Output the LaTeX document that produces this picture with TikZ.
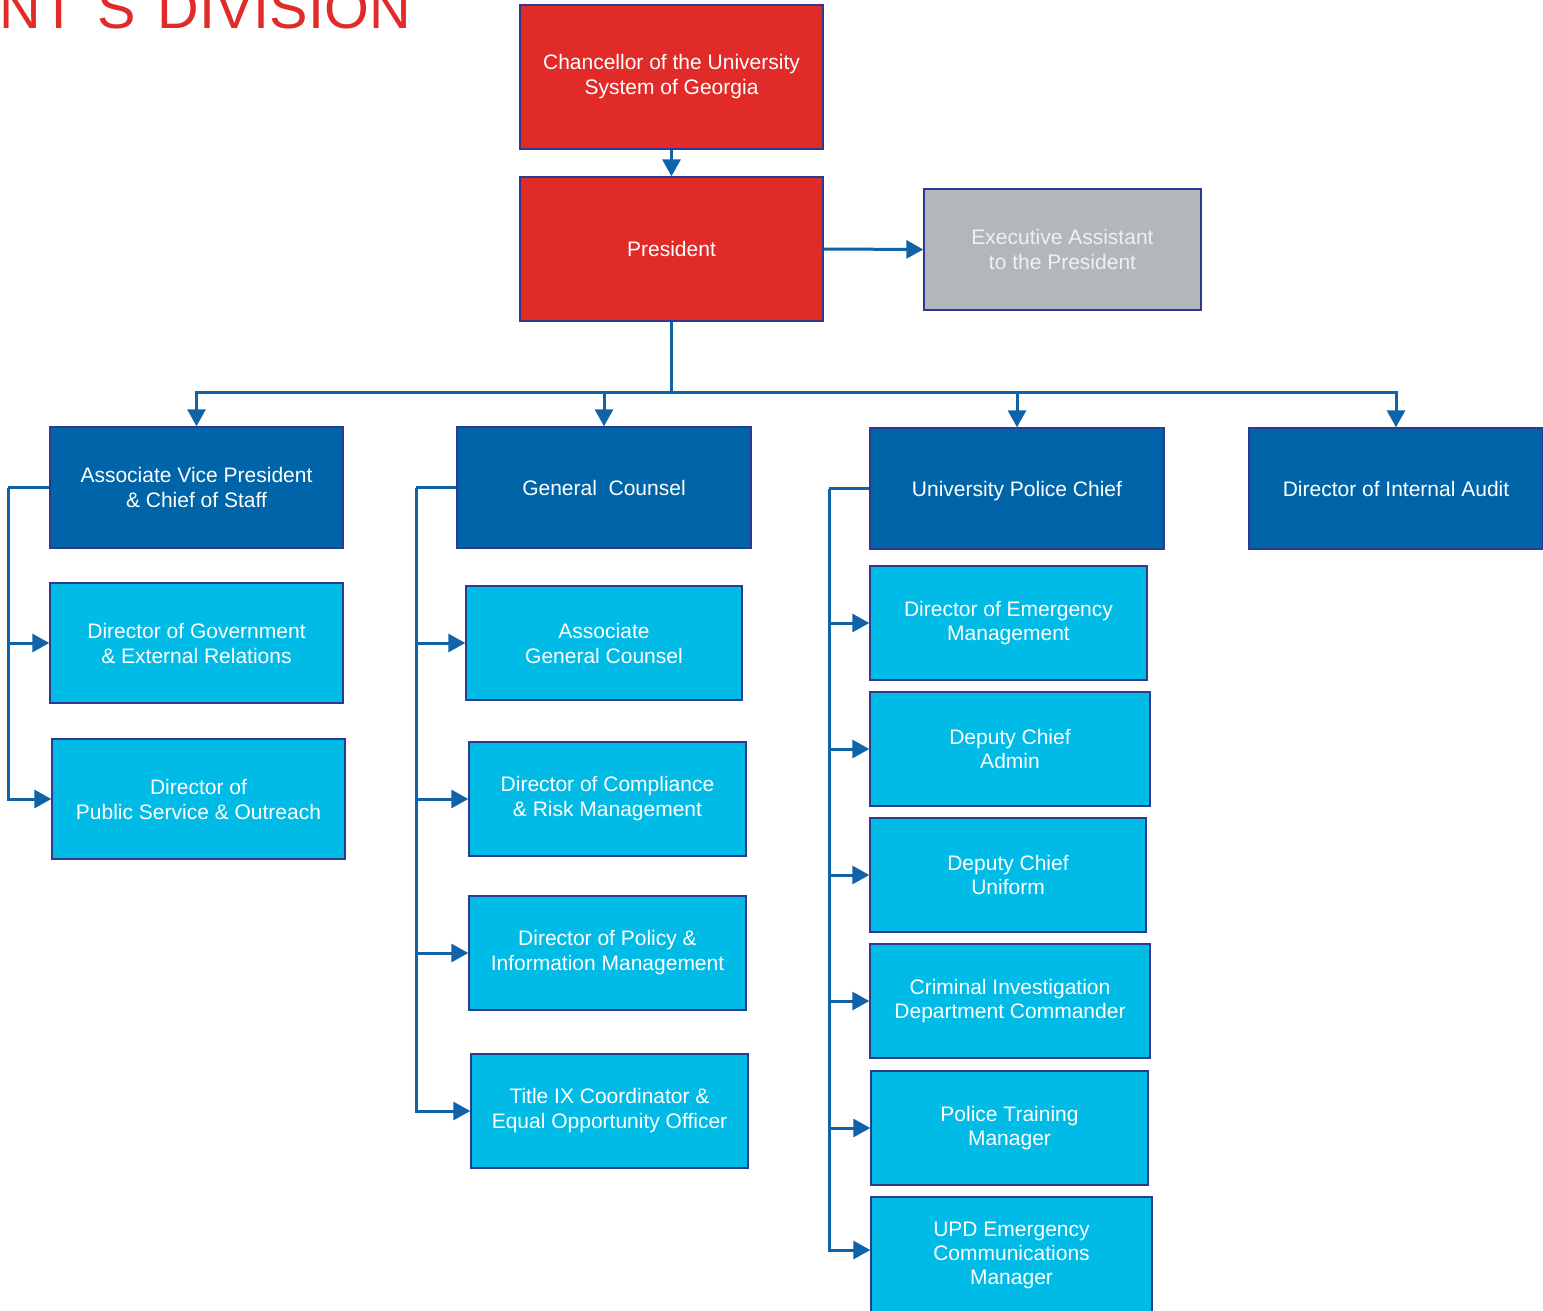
\documentclass[tikz,border=0pt]{standalone}
\usepackage{fontspec}
\setmainfont{Liberation Sans}
\usetikzlibrary{arrows.meta}
\definecolor{cred}{HTML}{E02B29}
\definecolor{cdark}{HTML}{0065A8}
\definecolor{clight}{HTML}{00BBE6}
\definecolor{cgray}{HTML}{B1B7BA}
\definecolor{cborder}{HTML}{2E3A8F}
\definecolor{cline}{HTML}{0F63A6}
\begin{document}
\begin{tikzpicture}[x=1pt,y=-1pt,
  orgbox/.style={draw=cborder, line width=1.4pt, text=white, align=center, inner sep=0pt,
    font=\fontsize{21}{25}\selectfont},
  redbox/.style={orgbox, fill=cred},
  graybox/.style={orgbox, fill=cgray, text=white!94!black},
  darkbox/.style={orgbox, fill=cdark, minimum width=294pt, minimum height=121pt},
  oneline/.style={text height=15pt, text depth=0pt},
  lightbox/.style={orgbox, fill=clight},
  link/.style={draw=cline, line width=3pt},
  arr/.style={link, -{Triangle[length=17pt,width=18pt]}}
]
\useasboundingbox (0,0) rectangle (1543,1311);
\clip (0,0) rectangle (1543,1311);
\fill[white] (0,0) rectangle (1543,1311);

% title (cut off at the top-left, as in the original)
\node[anchor=base east, inner sep=0pt, text=cred, font=\fontsize{57.6}{60}\selectfont] (title) at (411,28.5) {PRESIDENT\kern8pt\raisebox{6pt}{’}S\kern22pt DIVISION};

% top
\node[redbox, minimum width=303pt, minimum height=144pt] (chan) at (671.5,77) {Chancellor of the University\\System of Georgia};
\node[redbox, oneline, minimum width=303pt, minimum height=144pt] (pres) at (671.5,249) {President};
\node[graybox, minimum width=277pt, minimum height=121pt] (exec) at (1062.5,249.5) {Executive Assistant\\to the President};

% second row
\node[darkbox, minimum width=293pt] (avp) at (196.5,487.5) {Associate Vice President\\\& Chief of Staff};
\node[darkbox, oneline] (gc) at (604,487.5) {General~~Counsel};
\node[darkbox, oneline] (upc) at (1017,488.5) {University Police Chief};
\node[darkbox, oneline] (dia) at (1396,488.5) {Director of Internal Audit};

% AVP column
\node[lightbox, minimum width=293pt, minimum height=120pt] (gov) at (196.5,643) {Director of Government\\\& External Relations};
\node[lightbox, minimum width=293pt, minimum height=120pt] (pso) at (198.5,799) {Director of\\Public Service \& Outreach};

% GC column
\node[lightbox, minimum width=276pt, minimum height=114pt] (agc) at (604,643) {Associate\\General Counsel};
\node[lightbox, minimum width=277pt, minimum height=114pt] (crm) at (607.5,799) {Director of Compliance\\\& Risk Management};
\node[lightbox, minimum width=277pt, minimum height=114pt] (pim) at (607.5,953) {Director of Policy \&\\Information Management};
\node[lightbox, minimum width=277pt, minimum height=114pt] (t9) at (609.5,1111) {Title IX Coordinator \&\\Equal Opportunity Officer};

% police column
\node[lightbox, minimum width=277pt, minimum height=114pt, font=\fontsize{21}{24}\selectfont] (em) at (1008.5,623) {Director of Emergency\\Management};
\node[lightbox, minimum width=280pt, minimum height=114pt, font=\fontsize{21}{24}\selectfont] (dca) at (1010,749) {Deputy Chief\\Admin};
\node[lightbox, minimum width=276pt, minimum height=114pt, font=\fontsize{21}{24}\selectfont] (dcu) at (1008,875) {Deputy Chief\\Uniform};
\node[lightbox, minimum width=280pt, minimum height=114pt, font=\fontsize{21}{24}\selectfont] (cid) at (1010,1001) {Criminal Investigation\\Department Commander};
\node[lightbox, minimum width=277pt, minimum height=114pt, font=\fontsize{21}{24}\selectfont] (ptm) at (1009.5,1128) {Police Training\\Manager};
\node[lightbox, minimum width=281pt, minimum height=116pt, font=\fontsize{21}{24}\selectfont] (upd) at (1011.5,1255) {UPD Emergency\\Communications\\Manager};

% connectors at the top
\draw[arr] (chan.south) -- (pres.north);
\draw[arr] (pres.east) -- (exec.west);
\coordinate (bus) at (671.5,392);
\draw[link] (pres.south) -- (bus);
\draw[arr] (bus) -| (avp.north);
\draw[arr] (bus) -| (gc.north);
\draw[arr] (bus) -| (upc.north);
\draw[arr] (bus) -| (dia.north);

% AVP branches
\coordinate (avpL) at (8,487.5);
\draw[link] (avp.west) -- (avpL);
\draw[arr] (avpL) |- (gov.west);
\draw[arr] (avpL) |- (pso.west);

% GC branches
\coordinate (gcL) at (416,487.5);
\draw[link] (gc.west) -- (gcL);
\draw[arr] (gcL) |- (agc.west);
\draw[arr] (gcL) |- (crm.west);
\draw[arr] (gcL) |- (pim.west);
\draw[arr] (gcL) |- (t9.west);

% police branches
\coordinate (upcL) at (829,488.5);
\draw[link] (upc.west) -- (upcL);
\draw[arr] (upcL) |- (em.west);
\draw[arr] (upcL) |- (dca.west);
\draw[arr] (upcL) |- (dcu.west);
\draw[arr] (upcL) |- (cid.west);
\draw[arr] (upcL) |- (ptm.west);
\draw[arr] (upcL) |- ([yshift=5pt]upd.west);
\end{tikzpicture}
\end{document}
